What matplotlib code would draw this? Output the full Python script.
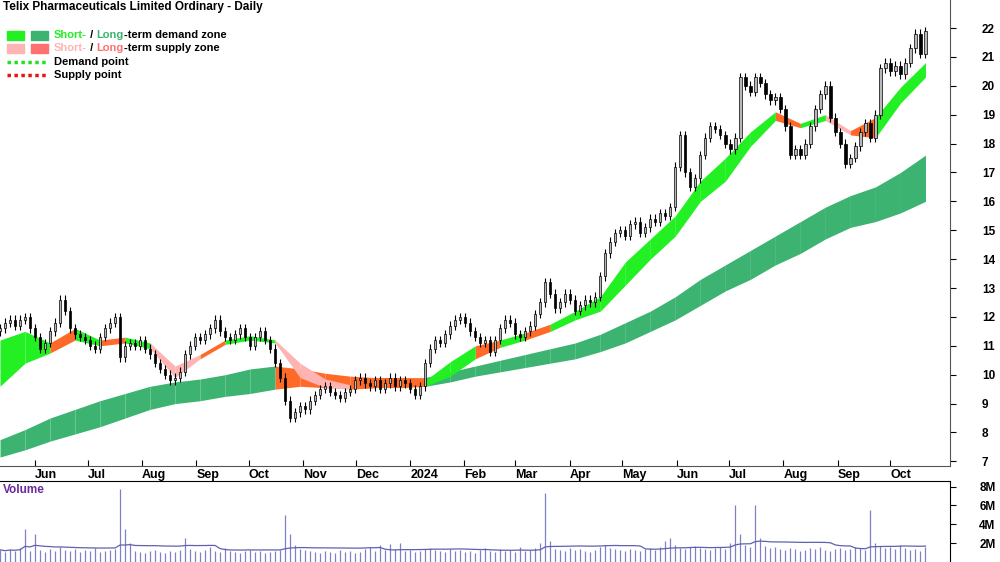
import matplotlib.pyplot as plt
import numpy as np
import pandas as pd

plt.rcParams['font.family'] = ['Liberation Sans', 'DejaVu Sans']

# closes, one bar per two trading days
closes = [11.6, 11.8, 11.9, 11.7, 11.9, 12.0, 11.6, 11.3,
          10.9, 11.1, 11.5, 11.8, 12.6, 12.2, 11.6, 11.4, 11.3, 11.2,
          11.0, 10.9, 11.3, 11.6, 11.8, 12.0,
          10.6, 11.0, 11.1, 11.0, 11.2, 10.9, 10.7, 10.4, 10.2, 10.0, 9.8, 9.9,
          10.1, 10.7, 11.0, 11.3, 11.2, 11.4, 11.6, 11.9, 11.5, 11.3, 11.2, 11.4,
          11.6, 11.3, 11.0, 11.3, 11.5, 11.2, 10.9, 10.4, 9.9, 9.1,
          8.5, 8.7, 8.9, 8.8, 9.1, 9.3, 9.5, 9.6, 9.4, 9.3, 9.2, 9.4,
          9.5, 9.8, 9.9, 9.7, 9.6, 9.8, 9.5, 9.7, 9.9, 9.6, 9.8, 9.7,
          9.5, 9.3, 9.6, 10.4, 10.9, 11.2, 11.1, 11.4, 11.7, 11.9, 12.0, 11.8,
          11.5, 11.3, 11.1, 11.2, 10.8, 11.2, 11.6, 11.9, 11.8, 11.4, 11.3, 11.5,
          11.7, 12.1, 12.5, 13.2, 12.8, 12.3, 12.5, 12.8, 12.6, 12.2, 12.4, 12.6,
          12.5, 12.7, 13.4, 14.2, 14.6, 14.9, 15.0, 14.8, 15.2, 15.3, 14.9, 15.1,
          15.4, 15.3, 15.6, 15.5, 15.8, 17.2, 18.3, 17.0, 16.5, 16.8, 17.6, 18.2,
          18.6, 18.5, 18.3, 18.0, 17.8, 18.2, 20.3, 20.0, 19.8, 20.3, 20.1, 19.7,
          19.5, 19.6, 19.2, 18.6, 17.6, 17.8, 17.6, 18.0, 18.6, 19.2, 19.7, 20.0,
          18.9, 18.4, 18.0, 17.3, 17.5, 17.9, 18.4, 18.7, 18.2, 19.0, 20.6, 20.8,
          20.5, 20.7, 20.4, 20.8, 21.3, 21.8, 21.1, 21.9]

volumes = [1.3, 1.1, 1.4, 1.2, 1.5, 3.5, 1.2, 3.0, 1.3, 1.1, 1.4, 1.2, 1.6, 1.3, 1.2, 1.4,
           1.1, 1.3, 1.2, 1.5, 1.1, 1.2, 1.3, 1.4, 7.8, 3.5, 2.0, 1.2, 1.1, 1.0, 1.2, 1.3,
           1.1, 1.0, 1.2, 1.1, 1.3, 2.5, 1.4, 1.2, 1.1, 1.3, 1.6, 1.2, 1.1, 1.5, 1.2, 1.1,
           1.0, 1.2, 1.3, 1.1, 1.2, 1.0, 1.1, 1.2, 1.3, 5.0, 3.0, 1.8, 1.4, 1.3, 1.2, 1.1,
           1.0, 1.2, 1.1, 1.0, 1.3, 1.1, 1.2, 1.0, 1.1, 1.4, 1.6, 1.2, 1.8, 1.3, 1.9, 1.4,
           2.0, 1.2, 1.3, 1.1, 1.2, 1.4, 1.5, 1.3, 1.2, 1.1, 1.4, 1.2, 1.3, 1.1, 1.2, 1.0,
           1.3, 1.5, 1.2, 1.1, 1.4, 1.2, 1.3, 1.1, 1.6, 1.2, 1.3, 1.5, 2.0, 7.3, 2.2, 1.4,
           1.3, 1.2, 1.5, 1.3, 1.4, 1.2, 1.1, 1.3, 1.6, 1.8, 1.5, 1.4, 1.3, 1.2, 1.4, 1.3,
           1.2, 1.4, 1.5, 1.3, 1.6, 2.2, 2.5, 1.8, 1.5, 1.4, 1.6, 1.7, 1.5, 1.4, 1.3, 1.5,
           1.6, 1.4, 2.0, 6.0, 3.0, 1.8, 1.6, 6.0, 2.5, 1.7, 1.5, 1.6, 1.4, 1.3, 1.5, 1.4,
           1.2, 1.3, 1.5, 1.4, 1.6, 1.3, 1.2, 1.4, 1.5, 1.3, 1.4, 1.6, 1.5, 1.3, 5.5, 2.0,
           1.7, 1.5, 1.6, 1.4, 1.8, 1.5, 1.3, 1.4, 1.2, 1.6]

# zone bands, one anchor every five bars
short_top = [11.2, 11.5, 11.1, 11.6, 11.2, 11.3, 11.1, 10.3, 10.7, 11.2, 11.35, 11.2, 10.4,
             9.85, 9.65, 9.7, 9.75, 9.8, 10.45, 11.0, 11.2, 11.45, 11.75, 12.2, 12.7, 13.9,
             14.7, 15.5, 16.7, 17.5, 18.4, 19.1, 18.7, 19.0, 18.45, 18.9, 19.95, 20.8]
short_bot = [9.6, 10.4, 10.75, 11.2, 11.0, 11.1, 10.9, 9.9, 10.55, 11.05, 11.2, 11.1, 9.9,
             9.55, 9.5, 9.55, 9.6, 9.6, 9.95, 10.55, 10.95, 11.2, 11.5, 11.9, 12.2, 13.1,
             14.0, 14.8, 16.0, 16.7, 17.9, 18.8, 18.55, 18.8, 18.3, 18.2, 19.4, 20.3]
short_state = "ggogogppoggpppoooggogo" + "g" * 9 + "ogpogg"
long_top = [7.75, 8.1, 8.5, 8.8, 9.1, 9.35, 9.6, 9.75, 9.85, 10.0, 10.2, 10.3, 10.2, 10.05,
            9.95, 9.9, 9.9, 9.9, 10.1, 10.3, 10.5, 10.7, 10.9, 11.1, 11.4, 11.8, 12.2, 12.7,
            13.3, 13.8, 14.3, 14.8, 15.3, 15.8, 16.2, 16.5, 17.0, 17.6]
long_bot = [7.15, 7.4, 7.7, 7.95, 8.2, 8.5, 8.8, 9.0, 9.1, 9.25, 9.35, 9.5, 9.6, 9.55,
            9.55, 9.55, 9.55, 9.6, 9.75, 9.95, 10.1, 10.25, 10.4, 10.55, 10.8, 11.1, 11.5,
            11.9, 12.4, 12.9, 13.3, 13.8, 14.2, 14.7, 15.1, 15.3, 15.6, 16.0]
long_state = "g" * 11 + "o" * 6 + "g" * 20

zone_colors = {'g': '#22f022', 'o': '#ff6a28', 'p': '#ffb4b4'}

dates = pd.date_range('2023-05-12', '2024-10-21', periods=len(closes))
band_dates = dates[::5]

fig = plt.figure(figsize=(10, 5.62), dpi=100)
ax = fig.add_axes([0, 1 - 466 / 562, 0.95, 466 / 562])
axv = fig.add_axes([0, 0, 0.95, 81 / 562])

# zones
for i in range(len(band_dates) - 1):
    xs = band_dates[i:i + 2]
    c = '#3cb371' if long_state[i] == 'g' else zone_colors['o']
    ax.fill_between(xs, long_bot[i:i + 2], long_top[i:i + 2], color=c, lw=0, zorder=1)
for i in range(len(band_dates) - 1):
    xs = band_dates[i:i + 2]
    ax.fill_between(xs, short_bot[i:i + 2], short_top[i:i + 2],
                    color=zone_colors[short_state[i]], lw=0, zorder=2)

# candles
opens = [closes[0] - 0.1] + closes[:-1]
for d, o, c in zip(dates, opens, closes):
    hi = max(o, c) + 0.15
    lo = min(o, c) - 0.15
    ax.vlines(d, lo, hi, color='black', lw=0.8, zorder=3)
    up = c >= o
    ax.bar(d, max(abs(c - o), 0.04), bottom=min(o, c), width=1.3,
           color='#b8b8b8' if up else 'black', edgecolor='black', lw=0.5, zorder=4)

ax.set_ylim(6.84, 22.97)
xl = (pd.Timestamp('2023-05-12'), pd.Timestamp('2024-11-04'))
ax.set_xlim(*xl)
ax.yaxis.tick_right()
ax.set_yticks(range(7, 23))
ax.tick_params(axis='y', direction='out', length=4, pad=19, labelsize=8.5)
for t in ax.get_yticklabels():
    t.set_fontweight('bold')

months = pd.date_range('2023-06-01', '2024-10-01', freq='MS')
labels = ['2024' if m.month == 1 else m.strftime('%b') for m in months]
ax.set_xticks(months)
ax.set_xticklabels(labels, fontsize=9, fontweight='bold', ha='left')
ax.tick_params(axis='x', direction='in', length=4, pad=2)
for s in ['top', 'left']:
    ax.spines[s].set_visible(False)
ax.spines['right'].set_color('#555555')
ax.spines['bottom'].set_color('#555555')

# volume
axv.vlines(dates, 0, volumes, color='#8080c8', lw=0.9)
vma = pd.Series(volumes).rolling(20, min_periods=1).mean()
axv.plot(dates, vma, color='#6060b0', lw=0.9)
axv.set_xlim(*xl)
axv.set_ylim(0, 8.6)
axv.yaxis.tick_right()
axv.set_yticks([2, 4, 6, 8])
axv.set_yticklabels(['2M', '4M', '6M', '8M'])
axv.tick_params(axis='y', direction='out', length=4, pad=17, labelsize=8.5)
for t in axv.get_yticklabels():
    t.set_fontweight('bold')
axv.set_xticks([])
for s in ['left', 'bottom']:
    axv.spines[s].set_visible(False)


def px(x, y):
    return x / 1000, 1 - y / 562


fig.text(*px(3, 490), 'Volume', fontsize=8.5, fontweight='bold', color='#6a2a9a',
         va='center')
fig.text(*px(3, 7), 'Telix Pharmaceuticals Limited Ordinary - Daily', fontsize=8.5,
         fontweight='bold', va='center')
swatches = [(7, 31, '#22f022'), (31, 31, '#3cb371'), (7, 44, '#ffb4b4'), (31, 44, '#ff7070')]
for x, y, c in swatches:
    fig.patches.append(plt.Rectangle(px(x, y + 9), 17 / 1000, 9 / 562, color=c,
                                     transform=fig.transFigure))
rows = [(35, [('Short-', '#22f022'), (' / ', 'black'), ('Long', '#3cb371'),
              ('-term demand zone', 'black')]),
        (48, [('Short-', '#ffb4b4'), (' / ', 'black'), ('Long', '#ff7070'),
              ('-term supply zone', 'black')])]
renderer = fig.canvas.get_renderer()
for y, parts in rows:
    x = 54
    for txt, c in parts:
        t = fig.text(*px(x, y), txt, fontsize=8, fontweight='bold', color=c, va='center')
        x += t.get_window_extent(renderer).width
fig.add_artist(plt.Line2D([7 / 1000, 46 / 1000], [1 - 62 / 562] * 2, color='#22e022',
                          lw=2.5, ls=(0, (1, 1))))
fig.add_artist(plt.Line2D([7 / 1000, 46 / 1000], [1 - 75 / 562] * 2, color='#ee1111',
                          lw=2.5, ls=(0, (1, 1))))
fig.text(*px(54, 62), 'Demand point', fontsize=8, fontweight='bold', va='center')
fig.text(*px(54, 75), 'Supply point', fontsize=8, fontweight='bold', va='center')

fig.savefig('out.png', dpi=100)
